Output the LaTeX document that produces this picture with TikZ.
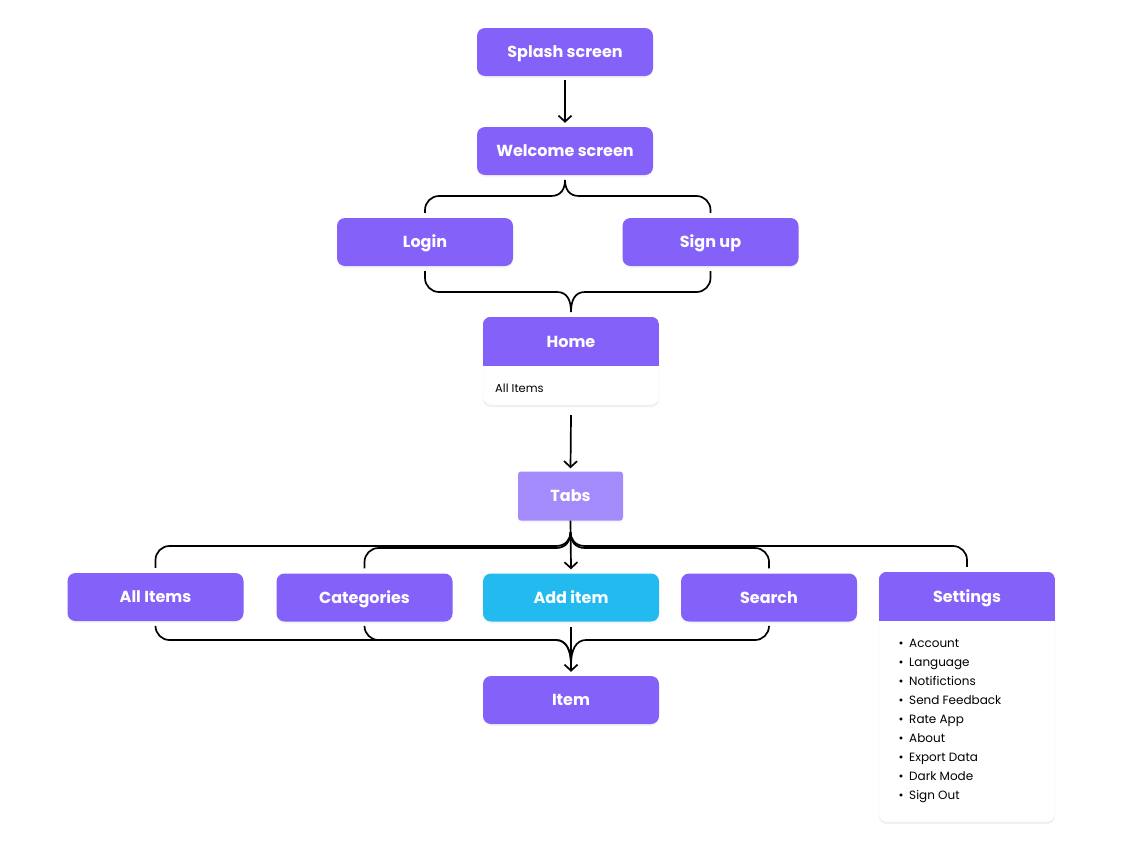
\documentclass[tikz,border=0pt]{standalone}
\usepackage{fontspec}
\setmainfont{Poppins}
\usetikzlibrary{positioning,arrows.meta,shadows}
\definecolor{flow}{HTML}{8462FA}
\definecolor{tabc}{HTML}{A48BFB}
\definecolor{addc}{HTML}{23BAF0}
\tikzset{
  screen/.style={rounded corners=8pt, fill=flow, text=white, minimum width=176pt,
              minimum height=48pt, font=\fontsize{16}{18}\selectfont\bfseries,
              text height=11.5pt, text depth=0pt,
              drop shadow={shadow xshift=0pt, shadow yshift=-2pt, opacity=0.08}},
  tabbox/.style={screen, fill=tabc, rounded corners=3pt, minimum width=105pt, minimum height=49pt},
  addbox/.style={screen, fill=addc},
  card/.style={rounded corners=8pt, fill=white, draw=black!5, minimum width=176pt,
              drop shadow={shadow xshift=0pt, shadow yshift=-2pt, opacity=0.12}},
  head/.style={fill=flow, text=white, minimum width=176pt, minimum height=49pt,
              font=\fontsize{16}{18}\selectfont\bfseries, text height=11.5pt, text depth=0pt},
  listtext/.style={font=\fontsize{12}{14}\selectfont, inner sep=0pt},
  link/.style={line width=1.7pt},
  >={Straight Barb[length=6pt,width=13pt]},
}
\begin{document}
\begin{tikzpicture}[x=1pt, y=-1pt]
\useasboundingbox (0,0) rectangle (1123,849);

% screens
\node[screen] (splash) at (565,52) {Splash screen};
\node[screen] (welcome) at (565,151) {Welcome screen};
\node[screen] (login) at (425,242) {Login};
\node[screen] (signup) at (710.5,242) {Sign up};

% home card
\node[card, minimum height=88pt] (homecard) at (571,361) {};
\begin{scope}
  \clip[rounded corners=8pt] (homecard.north west) rectangle (homecard.south east);
  \node[head] (home) at (571,341.5) {Home};
\end{scope}
\node[listtext, font=\fontsize{11.5}{14}\selectfont, anchor=base west] (homeitems) at (495,392.5) {All Items};

\node[tabbox] (tabs) at (570.5,496) {Tabs};

\node[screen] (allitems) at (155.5,597) {All Items};
\node[screen] (categories) at (364.5,597.5) {Categories};
\node[addbox] (additem) at (571,597.5) {Add item};
\node[screen] (search) at (769,597.5) {Search};
\node[screen] (item) at (571,700) {Item};

% settings card
\node[card, minimum height=250pt] (settingscard) at (967,697) {};
\begin{scope}
  \clip[rounded corners=8pt] (settingscard.north west) rectangle (settingscard.south east);
  \node[head] (settings) at (967,596.5) {Settings};
\end{scope}
\foreach \s [count=\i from 0] in {Account, Language, Notifictions, Send Feedback, Rate App,
    About, Export Data, Dark Mode, Sign Out} {
  \node[listtext, anchor=base] (bul\i) at (901,{647.5+19*\i}) {\textbullet};
  \node[listtext, anchor=base west] (set\i) at (909,{647.5+19*\i}) {\s};
}

% connectors
\draw[link,->] ([yshift=-4pt]splash.south) -- ([yshift=4pt]welcome.north);

\coordinate (wtip) at (565,180);
\draw[link] (wtip) .. controls (565,189) and (561,196) .. (551,196)
  [rounded corners=14pt] -| ([yshift=5pt]login.north);
\draw[link] (wtip) .. controls (565,189) and (569,196) .. (579,196)
  [rounded corners=14pt] -| ([yshift=5pt]signup.north);

\coordinate (htip) at (571,312);
\draw[link] (htip) .. controls (571,300) and (567,292) .. (557,292)
  [rounded corners=14pt] -| ([yshift=-5pt]login.south);
\draw[link] (htip) .. controls (571,300) and (575,292) .. (585,292)
  [rounded corners=14pt] -| ([yshift=-5pt]signup.south);

\draw[link,->] ([yshift=-10pt]homecard.south) -- ([yshift=3pt]tabs.north);

\coordinate (ttip) at (570.5,532);
\draw[link,->] (tabs.south) -- ([yshift=4pt]additem.north);
\foreach \t/\y in {allitems/546, categories/548}
  \draw[link] (ttip) .. controls (570.5,{\y-7}) and (566,\y) .. (556,\y)
    [rounded corners=14pt] -| ([yshift=5pt]\t.north);
\foreach \t/\y in {search/548, settings/546}
  \draw[link] (ttip) .. controls (570.5,{\y-7}) and (575,\y) .. (585,\y)
    [rounded corners=14pt] -| ([yshift=5pt]\t.north);

\coordinate (itip) at (571,664);
\foreach \s in {allitems, categories}
  \draw[link] (itip) .. controls (571,650) and (566,640) .. (556,640)
    [rounded corners=14pt] -| ([yshift=-5pt]\s.south);
\draw[link] (itip) .. controls (571,650) and (576,640) .. (586,640)
  [rounded corners=14pt] -| ([yshift=-5pt]search.south);
\draw[link,->] ([yshift=-5pt]additem.south) -- ([yshift=4pt]item.north);
\end{tikzpicture}
\end{document}
